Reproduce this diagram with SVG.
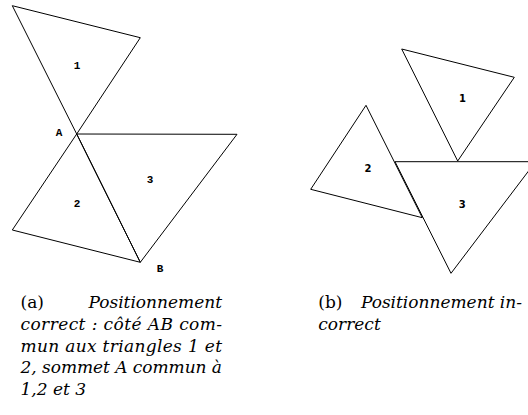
<svg xmlns="http://www.w3.org/2000/svg" width="528" height="415" viewBox="0 0 528 415">
<style>
.tri{fill:none;stroke:#000;stroke-width:1;stroke-linejoin:miter}
.lm{font-family:"Liberation Mono","DejaVu Sans Mono",monospace;font-weight:bold;font-size:11px;text-anchor:middle;fill:#000}
.lb{font-family:"DejaVu Sans","Liberation Sans",sans-serif;font-weight:bold;font-size:10px;text-anchor:middle;fill:#000}
.cap{font-family:"DejaVu Serif","Liberation Serif",serif;font-size:17px;fill:#000}
.it{font-style:italic}
</style>
<rect width="528" height="415" fill="#fff"/>
<g id="figure-a">
  <g id="a-tri1"><polygon class="tri" points="12.3,5.7 140.3,37.7 76.7,134"/><text class="lm" x="77" y="69">1</text></g>
  <g id="a-tri3"><polygon class="tri" points="76.7,134 237,134.3 140.3,262.3"/><text class="lm" x="150" y="183">3</text></g>
  <g id="a-tri2"><polygon class="tri" points="76.7,134 12.3,230 140.3,262.3"/><text class="lm" x="77" y="207">2</text></g>
  <g id="a-A"><text class="lm" x="59" y="136">A</text></g>
  <g id="a-B"><text class="lm" x="160" y="272">B</text></g>
</g>
<g id="figure-b">
  <g id="b-tri1"><polygon class="tri" points="401.7,49 514.3,77.3 457.7,161"/><text class="lb" x="462.5" y="101.5">1</text></g>
  <g id="b-tri3"><polygon class="tri" points="395,161.7 535.6,161.7 451,273.3"/><text class="lb" x="462.3" y="208">3</text></g>
  <g id="b-tri2"><polygon class="tri" points="366,105.3 310.7,189.3 422.3,217.7"/><text class="lb" x="368" y="171.5">2</text></g>
</g>
<g id="connectors"/>
<g id="caption-a" class="cap">
  <text x="20.5" y="307.5">(a)</text>
  <text class="it" x="222" y="307.5" text-anchor="end">Positionnement</text>
  <text class="it" x="20.5" y="329.5" textLength="201.5" lengthAdjust="spacing">correct : côté AB com-</text>
  <text class="it" x="20.5" y="351.5" textLength="201.5" lengthAdjust="spacing">mun aux triangles 1 et</text>
  <text class="it" x="20.5" y="373" textLength="201.5" lengthAdjust="spacing">2, sommet A commun à</text>
  <text class="it" x="20.5" y="395">1,2 et 3</text>
</g>
<g id="caption-b" class="cap">
  <text x="318.3" y="307.5">(b)</text>
  <text class="it" x="522" y="307.5" text-anchor="end">Positionnement in-</text>
  <text class="it" x="318.3" y="329.5">correct</text>
</g>
</svg>
